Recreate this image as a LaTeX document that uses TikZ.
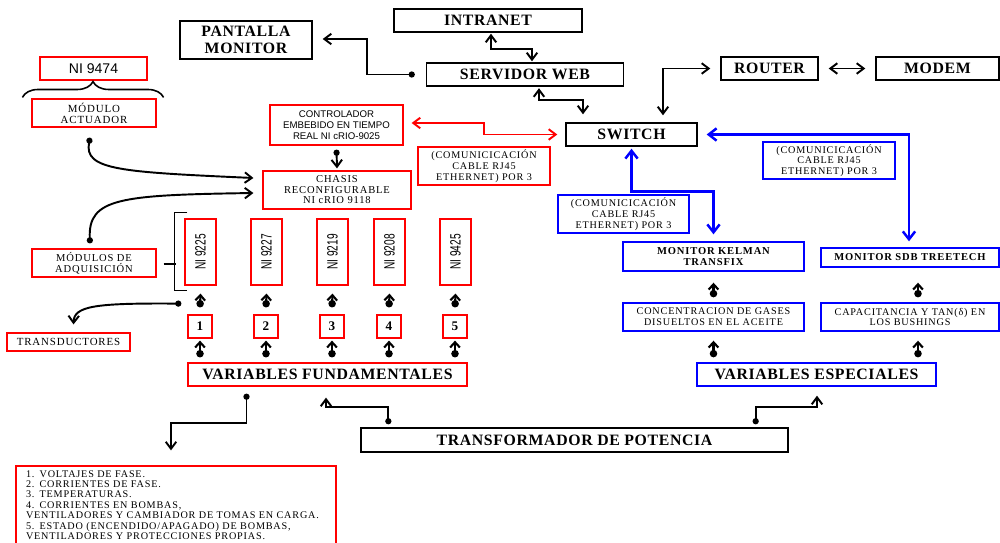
\documentclass[tikz,border=0pt]{standalone}
\usepackage{fontspec}
\setmainfont{Liberation Serif}
\setsansfont{Liberation Sans}
\newfontfamily\spacedserif[LetterSpace=8]{Liberation Serif}
\newfontfamily\widebold[LetterSpace=4]{Liberation Serif}
\usepackage{graphicx}
\usetikzlibrary{arrows.meta,calc,positioning,decorations.pathreplacing}
\tikzset{%
	blackbox/.style = {draw, rectangle, line width=0.8pt, inner sep=0pt, align=center, font=\widebold\fontsize{9}{10}\selectfont\bfseries},
	redbox/.style   = {draw=red, rectangle, line width=0.7pt, inner sep=0pt, align=center, font=\spacedserif\fontsize{5.8}{6.1}\selectfont},
	bluebox/.style  = {draw=blue, rectangle, line width=0.8pt, inner sep=0pt, align=center, font=\spacedserif\fontsize{5.8}{6.1}\selectfont},
	bigtxt/.style   = {font=\widebold\fontsize{9}{10}\selectfont\bfseries},
	numbox/.style   = {redbox, font=\fontsize{7.5}{8}\selectfont\bfseries, minimum width=0.48cm, minimum height=0.46cm},
	modbox/.style   = {redbox, font=\sffamily\fontsize{8.5}{9}\selectfont, minimum width=0.62cm, minimum height=1.32cm},
	duallink/.style = {line width=1.1pt, {Straight Barb[length=4pt,width=6pt]}-{Straight Barb[length=4pt,width=6pt]}},
	dotlink/.style  = {line width=1.1pt, {Circle[length=3.5pt]}-{Straight Barb[length=4pt,width=6pt]}},
	tinylink/.style = {line width=1.2pt, {Circle[length=4.2pt]}-{Straight Barb[length=3pt,width=5.5pt]}},
	redlink/.style  = {red, line width=1.1pt, {Straight Barb[length=4pt,width=6pt]}-{Straight Barb[length=4pt,width=6pt]}},
	bluelink/.style = {blue, line width=1.4pt, {Straight Barb[length=4.5pt,width=7pt]}-{Straight Barb[length=4.5pt,width=7pt]}},
	bracestyle/.style = {line width=0.9pt, decorate, decoration={brace,amplitude=9pt}},
}
\begin{document}
\begin{tikzpicture}[x=0.02cm,y=-0.02cm]
	\useasboundingbox (0,0) rectangle (1000,542);

	% red side
	\node[redbox, font=\sffamily\fontsize{8}{9}\selectfont, minimum width=2.14cm, minimum height=0.46cm] (ni9474) at (93.5,68.5) {NI 9474};
	\node[redbox, font=\spacedserif\fontsize{6.2}{6.4}\selectfont, minimum width=2.48cm, minimum height=0.56cm] (actuador) at (94,113) {MÓDULO\\ACTUADOR};
	\node[redbox, font=\sffamily\fontsize{5.5}{6.2}\selectfont, minimum width=2.66cm, minimum height=0.8cm] (ctrl) at (336.5,125) {CONTROLADOR\\EMBEBIDO EN TIEMPO\\REAL NI cRIO-9025};
	\node[redbox, font=\spacedserif\fontsize{6}{6}\selectfont, minimum width=2.96cm, minimum height=0.76cm] (chasis) at (337,190) {CHASIS\\RECONFIGURABLE\\NI cRIO 9118};
	\node[redbox, minimum width=2.64cm, minimum height=0.76cm] (commred) at (484,166) {(COMUNICICACIÓN\\CABLE RJ45\\ETHERNET) POR 3};
	\node[redbox, font=\spacedserif\fontsize{6}{6.3}\selectfont, minimum width=2.48cm, minimum height=0.56cm] (adq) at (94,263) {MÓDULOS DE\\ADQUISICIÓN};
	\node[redbox, font=\spacedserif\fontsize{6.2}{6.4}\selectfont, minimum width=2.46cm, minimum height=0.36cm] (transd) at (68.5,342) {TRANSDUCTORES};
	\node[redbox, bigtxt, minimum width=5.58cm, minimum height=0.46cm] (vfund) at (327.5,374.5) {VARIABLES FUNDAMENTALES};
	\node[redbox, font=\spacedserif\fontsize{5.8}{5.9}\selectfont, minimum width=6.4cm, minimum height=1.56cm, text width=6.0cm, align=left] (lista) at (176,505) {1. VOLTAJES DE FASE.\\2. CORRIENTES DE FASE.\\3. TEMPERATURAS.\\4. CORRIENTES EN BOMBAS,\\VENTILADORES Y CAMBIADOR DE TOMAS EN CARGA.\\5. ESTADO (ENCENDIDO/APAGADO) DE BOMBAS,\\VENTILADORES Y PROTECCIONES PROPIAS.};

	\foreach \i/\xx/\lab in {1/200/9225, 2/266/9227, 3/332/9219, 4/389/9208, 5/455/9425}{
		\node[modbox] (m\i) at (\xx+0.5,252) {\rotatebox{90}{\scalebox{0.68}[1]{NI \lab}}};
		\node[numbox] (n\i) at (\xx,326.5) {\i};
		\draw[tinylink] ($(n\i.north)+(0,-7)$) -- ($(m\i.south)+(0,8)$);
		\draw[tinylink] ($(vfund.north -| n\i)+(0,-5)$) -- ($(n\i.south)+(0,2)$);
	}

	% black boxes
	\node[blackbox, minimum width=3.76cm, minimum height=0.46cm] (intranet) at (488,20.5) {INTRANET};
	\node[blackbox, minimum width=2.64cm, minimum height=0.76cm] (pantalla) at (246,40) {PANTALLA\\MONITOR};
	\node[blackbox, minimum width=3.94cm, minimum height=0.46cm] (servidor) at (525,74.5) {SERVIDOR WEB};
	\node[blackbox, minimum width=1.94cm, minimum height=0.46cm] (router) at (769.5,68.5) {ROUTER};
	\node[blackbox, minimum width=2.46cm, minimum height=0.46cm] (modem) at (937.5,68.5) {MODEM};
	\node[blackbox, minimum width=2.62cm, minimum height=0.46cm] (switch) at (631.5,134.5) {SWITCH};
	\node[blackbox, minimum width=8.54cm, minimum height=0.48cm] (transf) at (574.5,440) {TRANSFORMADOR DE POTENCIA};

	% blue side
	\node[bluebox, minimum width=2.64cm, minimum height=0.74cm] (commblueR) at (829,160.5) {(COMUNICICACIÓN\\CABLE RJ45\\ETHERNET) POR 3};
	\node[bluebox, minimum width=2.62cm, minimum height=0.76cm] (commblueL) at (623.5,214) {(COMUNICICACIÓN\\CABLE RJ45\\ETHERNET) POR 3};
	\node[bluebox, font=\spacedserif\fontsize{6}{6.3}\selectfont\bfseries, minimum width=3.62cm, minimum height=0.58cm] (kelman) at (713.5,256.5) {MONITOR KELMAN\\TRANSFIX};
	\node[bluebox, font=\spacedserif\fontsize{6}{6.3}\selectfont\bfseries, minimum width=3.56cm, minimum height=0.38cm] (sdb) at (910,257.5) {MONITOR SDB TREETECH};
	\node[bluebox, minimum width=3.62cm, minimum height=0.56cm] (conc) at (713.5,317) {CONCENTRACION DE GASES\\DISUELTOS EN EL ACEITE};
	\node[bluebox, minimum width=3.56cm, minimum height=0.56cm] (capac) at (910,317) {CAPACITANCIA Y TAN(δ) EN\\LOS BUSHINGS};
	\node[bluebox, bigtxt, minimum width=4.78cm, minimum height=0.46cm] (vesp) at (816.5,374.5) {VARIABLES ESPECIALES};

	% connectors
	\draw[duallink] ($(intranet.south)+(3,1)$) -- ++(0,15) -| ($(servidor.north)+(7,-1)$);
	\draw[duallink] ($(servidor.south)+(14,1.5)$) -- ++(0,12) -| ($(switch.north)+(-48.5,-8)$);
	\draw[duallink] ($(switch.north)+(31.5,-7)$) |- ($(router.west)+(-10,0)$);
	\draw[duallink] ($(router.east)+(10,0)$) -- ($(modem.west)+(-10,0)$);
	\draw[dotlink] ($(servidor.west)+(-11,0)$) -- ++(-48,0) |- ($(pantalla.east)+(10,-1)$);
	\draw[redlink] ($(ctrl.east)+(8,-2)$) -- ++(72,0) |- ($(switch.west)+(-8,0)$);
	\draw[bluelink] ($(switch.south)+(0,2)$) -- ++(0,43) -| ($(kelman.north)+(0,-7)$);
	\draw[bluelink] ($(switch.east)+(9,0)$) -| ($(sdb.north)+(-1,-6)$);
	\draw[dotlink] ($(ctrl.south)+(0,4)$) -- ($(chasis.north)+(0,-2)$);
	\draw[bracestyle] ($(actuador.north west)+(-9,-1)$) -- ($(actuador.north east)+(7,-1)$);
	\draw[dotlink] ($(actuador.south)+(-4,10)$) .. controls (84,170) and (120,172) .. ($(chasis.west)+(-9,-12)$);
	\draw[dotlink] ($(adq.north)+(-4,-5)$) .. controls (88,198) and (120,195) .. ($(chasis.west)+(-9,3)$);
	\draw[line width=0.9pt] ($(m1.north west)+(3,-6)$) -- ++(-13,0) |- ($(m1.south west)+(3,5)$);
	\draw[line width=0.9pt] ($(adq.east)+(7,1)$) -- ++(12,0);
	\coordinate (tdot) at ($(m1.south west)+(-3,18)$);
	\draw[dotlink] (tdot) .. controls (95,303) and (74,306) .. ($(transd.north)+(5,-8)$);
	\draw[tinylink] ($(conc.north)+(0,-5)$) -- ($(kelman.south)+(0,11)$);
	\draw[tinylink] ($(vesp.north -| conc)+(0,-5)$) -- ($(conc.south)+(0,9)$);
	\draw[tinylink] ($(capac.north)+(8,-5)$) -- ($(sdb.south)+(8,15)$);
	\draw[tinylink] ($(vesp.north -| capac)+(8,-5)$) -- ($(capac.south)+(8,9)$);
	\draw[dotlink] ($(vfund.south)+(-81,7)$) -- ++(0,29) -| ($(lista.north)+(-5,-15)$);
	\draw[dotlink] ($(transf.north west)+(28,-3)$) -- ++(0,-17) -| ($(vfund.south)+(-1.5,11)$);
	\draw[dotlink] ($(transf.north east)+(-33,-3)$) -- ++(0,-17) -| ($(vesp.south)+(0.5,9)$);
\end{tikzpicture}
\end{document}
